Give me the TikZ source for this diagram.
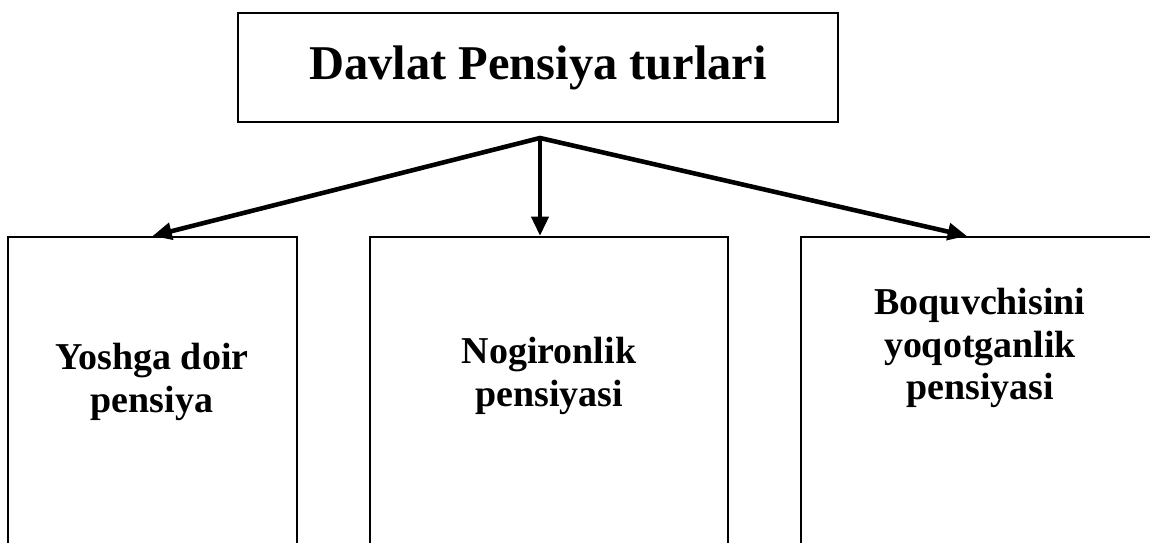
\documentclass[tikz,border=0pt]{standalone}
\usepackage{fontspec}
\setmainfont{Liberation Serif}
\usetikzlibrary{arrows.meta, positioning}

\begin{document}
\begin{tikzpicture}[
  x=0.02cm, y=-0.02cm,
  ucu/.tip={Triangle[length=11pt, width=9.5pt]},
  kutu/.style={rectangle, draw=black, line width=1.1pt, inner sep=0pt, anchor=north},
  bosh/.style={rectangle, draw=black, line width=1.1pt, inner sep=0pt,
               minimum width=12cm, minimum height=2.18cm,
               font=\fontsize{27.6}{32}\selectfont\bfseries},
  turlbl/.style={font=\fontsize{21.6}{24.4}\selectfont\bfseries, align=center, inner sep=0pt},
  arr/.style={-ucu, line width=2.6pt, black},
]

% --- Sahifa chegarasi ---
\clip (0,0) rectangle (1150,543);

% --- Bosh quti ---
\node[bosh] (davlat) at (538,67.5) {Davlat Pensiya turlari};
\coordinate (hub) at (540,138);

% --- Pensiya turlari qutilari ---
\node[kutu, minimum width=5.78cm, minimum height=7.7cm] (yosh) at (152.5,236) {};
\node[kutu, minimum width=7.16cm, minimum height=7.7cm] (nogiron) at (549,236) {};
\node[kutu, minimum width=7.16cm, minimum height=7.7cm] (boquv) at (980,236) {};

\node[turlbl] (yoshtxt) at (152,382) {Yoshga doir\\pensiya};
\node[turlbl] (nogirontxt) at (549,376) {Nogironlik\\pensiyasi};
\node[turlbl] (boquvtxt) at (980,348) {Boquvchisini\\yoqotganlik\\pensiyasi};

% --- Strelkalar ---
\draw[arr, ucu-ucu, line join=miter] (yosh.north) -- (hub) -- ([xshift=-0.26cm]boquv.north);
\draw[arr] (hub) -- (hub |- nogiron.north);

\end{tikzpicture}
\end{document}
